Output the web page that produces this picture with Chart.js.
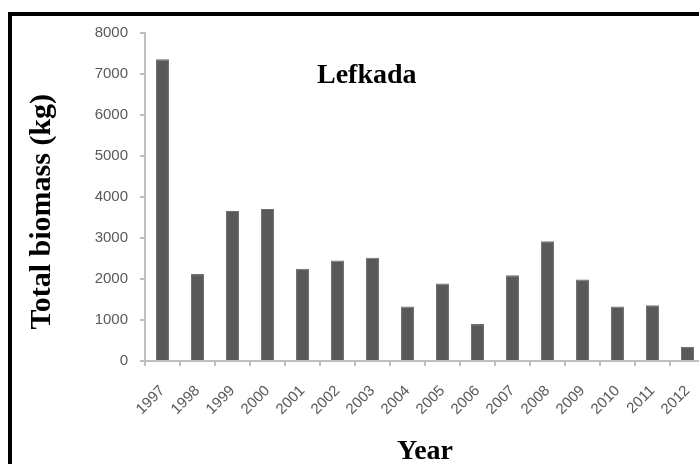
<!DOCTYPE html>
<html>
<head>
<meta charset="utf-8">
<script src="https://cdn.jsdelivr.net/npm/chart.js@4.4.0/dist/chart.umd.min.js"></script>
<style>
    html, body { margin: 0; padding: 0; background: #fff; overflow: hidden; }
    #frame { position: absolute; left: 8px; top: 12px; width: 1000px; height: 1000px; border: 4px solid #000; }
    #chartBox { position: absolute; left: 0; top: 0; }
</style>
</head>
<body>
<div id="frame"></div>
<div id="chartBox"><canvas id="biomassChart" width="720" height="464"></canvas></div>
<script>
    // Data
    const chartTitle = 'Lefkada';
    const yTitle = 'Total biomass (kg)';
    const years = ['1997', '1998', '1999', '2000', '2001', '2002', '2003', '2004',
                   '2005', '2006', '2007', '2008', '2009', '2010', '2011', '2012'];
    const biomass = [7360, 2120, 3660, 3710, 2250, 2450, 2520, 1330,
                     1890, 900, 2090, 2920, 1990, 1330, 1360, 340];
    const yTicks = [0, 1000, 2000, 3000, 4000, 5000, 6000, 7000, 8000];

    const serifBold = 'bold 28px "Liberation Serif", serif';

    // draws the chart title inside the plot and the y title beside the axis
    const extraTitles = {
        id: 'extraTitles',
        afterDraw: function(chart) {
            var area = chart.chartArea;
            var c = chart.ctx;
            var w = area.right - area.left;
            var h = area.bottom - area.top;
            c.save();
            c.fillStyle = '#000';
            c.textAlign = 'center';
            c.textBaseline = 'alphabetic';
            c.font = serifBold;
            c.fillText(chartTitle, area.left + 0.396 * w, area.top + 0.152 * h);

            // y title, a bit below the middle of the plot like the original
            c.font = 'bold 30px "Liberation Serif", serif';
            c.textBaseline = 'middle';
            c.translate(chart.scales.y.left + 30, area.top + 0.545 * h);
            c.rotate(-Math.PI / 2);
            c.fillText(yTitle, 0, 0);
            c.restore();
        }
    };

    const ctx = document.getElementById('biomassChart').getContext('2d');
    new Chart(ctx, {
        type: 'bar',
        data: {
            labels: years,
            datasets: [{
                label: yTitle,
                data: biomass,
                backgroundColor: '#595959',
                borderColor: '#6e6e6e',
                borderWidth: 1,
                barPercentage: 0.37,
                categoryPercentage: 1.0
            }]
        },
        options: {
            responsive: false,
            animation: false,
            layout: { padding: { left: 12, top: 33, right: 15, bottom: 0 } },
            plugins: {
                legend: { display: false },
                tooltip: { enabled: false }
            },
            scales: {
                x: {
                    grid: { display: true, drawOnChartArea: false, color: '#bfbfbf', lineWidth: 2, tickLength: 5 },
                    border: { color: '#bfbfbf', width: 2 },
                    ticks: {
                        color: '#595959',
                        font: { family: '"Liberation Sans", Arial, sans-serif', size: 15 },
                        minRotation: 45,
                        maxRotation: 45,
                        padding: 16
                    },
                    title: {
                        display: true,
                        text: 'Year',
                        color: '#000',
                        font: { family: '"Liberation Serif", serif', size: 28, weight: 'bold', lineHeight: 0.9 },
                        padding: { top: 0, bottom: 0 }
                    },
                    afterFit: function(scale) { scale.height = 103; }
                },
                y: {
                    min: 0,
                    max: 8000,
                    afterBuildTicks: function(scale) {
                        scale.ticks = yTicks.map(function(v) { return { value: v }; });
                    },
                    grid: { display: true, drawOnChartArea: false, color: '#bfbfbf', lineWidth: 2, tickLength: 5 },
                    border: { color: '#bfbfbf', width: 2 },
                    ticks: {
                        color: '#595959',
                        font: { family: '"Liberation Sans", Arial, sans-serif', size: 15 },
                        padding: 12,
                        callback: function(value) { return String(value); }
                    },
                    afterFit: function(scale) { scale.width = 133; }
                }
            }
        },
        plugins: [extraTitles]
    });
</script>
</body>
</html>
